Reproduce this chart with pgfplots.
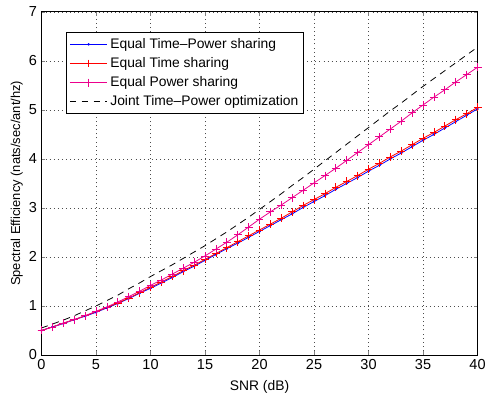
\documentclass[border=0pt]{standalone}
\usepackage{fontspec}
\setmainfont{Liberation Sans}
\usepackage{pgfplots}
\pgfplotsset{compat=1.18}
\pgfplotstableread{
x blue red mag joint
0 0.50 0.50 0.50 0.55
1 0.57 0.57 0.57 0.63
2 0.64 0.65 0.65 0.71
3 0.72 0.72 0.72 0.80
4 0.79 0.80 0.80 0.90
5 0.87 0.88 0.89 1.00
6 0.96 0.97 0.98 1.11
7 1.05 1.06 1.08 1.22
8 1.15 1.16 1.19 1.35
9 1.26 1.27 1.30 1.47
10 1.36 1.38 1.42 1.60
11 1.47 1.49 1.53 1.72
12 1.58 1.60 1.65 1.84
13 1.70 1.72 1.77 1.97
14 1.81 1.83 1.89 2.10
15 1.93 1.95 2.02 2.23
16 2.05 2.07 2.16 2.37
17 2.17 2.19 2.30 2.51
18 2.28 2.31 2.45 2.66
19 2.40 2.43 2.61 2.81
20 2.52 2.55 2.77 2.97
21 2.64 2.67 2.92 3.13
22 2.76 2.79 3.06 3.29
23 2.88 2.92 3.21 3.46
24 3.01 3.05 3.36 3.62
25 3.13 3.17 3.51 3.79
26 3.25 3.29 3.66 3.96
27 3.38 3.42 3.81 4.13
28 3.50 3.54 3.97 4.30
29 3.62 3.66 4.13 4.47
30 3.75 3.79 4.29 4.64
31 3.87 3.91 4.45 4.81
32 4.00 4.04 4.61 4.98
33 4.12 4.16 4.77 5.14
34 4.25 4.29 4.94 5.31
35 4.38 4.42 5.10 5.48
36 4.50 4.54 5.26 5.64
37 4.63 4.67 5.41 5.80
38 4.76 4.80 5.57 5.96
39 4.89 4.92 5.72 6.12
40 5.02 5.05 5.87 6.28
}\data
\begin{document}
\begin{tikzpicture}
\begin{axis}[
  name=ax,
  scale only axis,
  width=330.75pt, height=260.25pt,
  xmin=0, xmax=40, ymin=0, ymax=7,
  xtick={0,5,...,40}, ytick={0,1,...,7},
  grid=major,
  major grid style={dash pattern=on 0.7pt off 2.4pt, black!70, line width=0.5pt},
  tick align=inside,
  tick pos=both,
  major tick length=3pt,
  axis line style={line width=0.6pt},
  tick label style={font=\fontsize{11}{13}\selectfont},
  /pgf/number format/assume math mode=true,
  xlabel={SNR (dB)},
  ylabel={Spectral Efficiency (nats/sec/ant/hz)},
  xlabel style={font=\fontsize{10.5}{12}\selectfont, at={(axis description cs:0.5,0)}, anchor=north, yshift=-15.5pt},
  ylabel style={font=\fontsize{9.8}{12}\selectfont, at={(axis description cs:-0.057,0.5)}, anchor=center},
  legend style={at={(rel axis cs:0.057,0.942)}, anchor=north west,
    font=\fontsize{10.5}{12}\selectfont, draw=black, line width=0.6pt,
    row sep=0pt, inner sep=2pt,
    nodes={minimum height=14.5pt}},
  legend cell align=left,
  legend image code/.code={\draw[mark repeat=2,mark phase=2] plot coordinates {(0cm,0cm) (0.5cm,0cm) (1cm,0cm)};},
]
\addplot[color=blue, line width=0.6pt, mark=*, mark size=0.6pt] table[x=x,y=blue]{\data};
\addlegendentry{Equal Time--Power sharing}
\addplot[color=red, line width=0.6pt, mark=+, mark size=3pt] table[x=x,y=red]{\data};
\addlegendentry{Equal Time sharing}
\addplot[color=magenta, line width=0.6pt, mark=+, mark size=3pt] table[x=x,y=mag]{\data};
\addlegendentry{Equal Power sharing}
\addplot[color=black, line width=0.6pt, dash pattern=on 5pt off 4pt] table[x=x,y=joint]{\data};
\addlegendentry{Joint Time--Power optimization}
\end{axis}
\path (ax.south west) ++(-31.5pt,-30.75pt) coordinate (bl);
\path (ax.north east) ++(5.25pt,9pt) coordinate (tr);
\path[use as bounding box] (bl) rectangle (tr);
\end{tikzpicture}
\end{document}
